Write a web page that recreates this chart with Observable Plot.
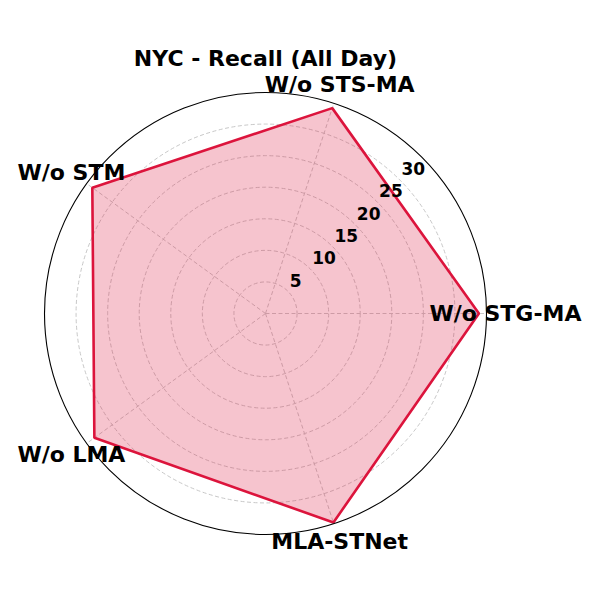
<!DOCTYPE html>
<html>
<head>
<meta charset="utf-8">
<script src="https://cdn.jsdelivr.net/npm/d3@7"></script>
<script src="https://cdn.jsdelivr.net/npm/@observablehq/plot@0.6"></script>
<style>
  html, body { margin: 0; padding: 0; background: #fff; }
</style>
</head>
<body>
<div id="chart"></div>
<script>
const title = "NYC - Recall (All Day)";
const categories = ["W/o STG-MA", "W/o STS-MA", "W/o STM", "W/o LMA", "MLA-STNet"];
const values = [33.8, 34.2, 33.9, 33.5, 34.8];
const radialTicks = [5, 10, 15, 20, 25, 30];
const rMax = 35;

const n = categories.length;
const angle = i => i * 2 * Math.PI / n;
const pts = categories.map((c, i) => ({c, v: values[i], a: angle(i)}));
const spokes = categories.map((c, i) => ({a: angle(i)}));
const labelR = 38;
const tickAngle = Math.PI / 4;

const chart = Plot.plot({
  width: 600,
  height: 600,
  marginLeft: 44,
  marginRight: 114,
  marginTop: 92,
  marginBottom: 66,
  x: {domain: [-rMax, rMax], axis: null},
  y: {domain: [-rMax, rMax], axis: null},
  r: {type: "linear", domain: [0, rMax], range: [0, 221]},
  style: {fontFamily: "DejaVu Sans", background: "#fff", color: "#000"},
  marks: [
    Plot.dot(radialTicks, {x: () => 0, y: () => 0, r: d => d, fill: "none", stroke: "#c8c8c8", strokeWidth: 1, strokeDasharray: "4,2.5"}),
    Plot.link(spokes, {x1: () => 0, y1: () => 0, x2: d => rMax * Math.cos(d.a), y2: d => rMax * Math.sin(d.a), stroke: "#c8c8c8", strokeWidth: 1, strokeDasharray: "4,2.5"}),
    Plot.line(pts, {x: d => d.v * Math.cos(d.a), y: d => d.v * Math.sin(d.a), curve: "linear-closed", fill: "#DC143C", fillOpacity: 0.25, stroke: "none"}),
    Plot.line(pts, {x: d => d.v * Math.cos(d.a), y: d => d.v * Math.sin(d.a), curve: "linear-closed", stroke: "#DC143C", strokeWidth: 2.6, strokeLinejoin: "miter"}),
    Plot.dot([rMax], {x: () => 0, y: () => 0, r: d => d, fill: "none", stroke: "#000", strokeWidth: 1.1}),
    Plot.text(radialTicks, {x: d => d * Math.cos(tickAngle), y: d => d * Math.sin(tickAngle), text: d => String(d), textAnchor: "start", dx: 2, dy: -10, fontSize: 17, fontWeight: "bold", fill: "#000"}),
    Plot.text(pts, {x: d => labelR * Math.cos(d.a), y: d => labelR * Math.sin(d.a), text: "c", textAnchor: "middle", fontSize: 22, fontWeight: "bold", fill: "#000"}),
    Plot.text([title], {frameAnchor: "top", text: d => d, lineAnchor: "middle", dy: -34, fontSize: 22, fontWeight: "bold", fill: "#000"})
  ]
});
document.getElementById("chart").appendChild(chart);
</script>
</body>
</html>
